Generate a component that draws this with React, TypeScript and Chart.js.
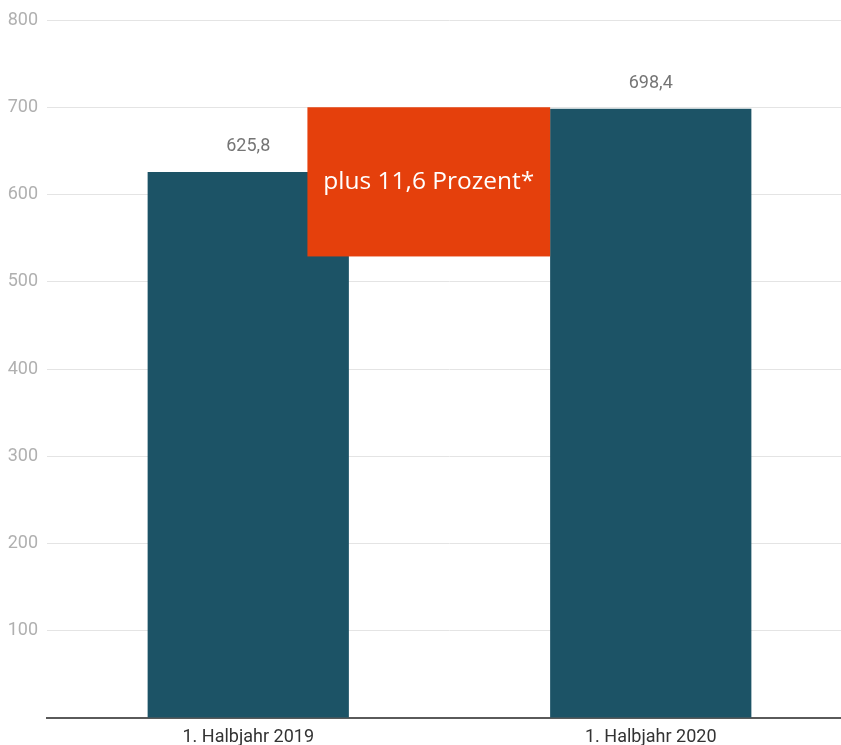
import React, { useEffect, useRef } from "react";
import { Chart, registerables } from "chart.js";

Chart.register(...registerables);

const categories = ["1. Halbjahr 2019", "1. Halbjahr 2020"];
const values = [625.8, 698.4];
const valueLabels = ["625,8", "698,4"];
const yTicks = [0, 100, 200, 300, 400, 500, 600, 700, 800];
const calloutText = "plus 11,6 Prozent*";
const calloutX = [0.147, 0.75];
const calloutY = [529, 700];

const BAR = "#1c5366";
const ORANGE = "#e5400c";

export default function App() {
  const ref = useRef<HTMLCanvasElement>(null);
  useEffect(() => {
    const canvas = ref.current!;
    const overlay = {
      id: "overlay",
      afterDatasetsDraw(chart: any) {
        const ctx = chart.ctx;
        const xs = chart.scales.x;
        const ys = chart.scales.y;
        const meta = chart.getDatasetMeta(0);
        ctx.save();
        ctx.fillStyle = "#757575";
        ctx.font = "18px Roboto";
        ctx.textAlign = "center";
        ctx.textBaseline = "middle";
        meta.data.forEach((bar: any, i: number) => {
          ctx.fillText(valueLabels[i], bar.x, bar.y - 25);
        });
        const x1 = xs.getPixelForValue(calloutX[0]);
        const x2 = xs.getPixelForValue(calloutX[1]);
        const y1 = ys.getPixelForValue(calloutY[1]);
        const y2 = ys.getPixelForValue(calloutY[0]);
        ctx.fillStyle = ORANGE;
        ctx.fillRect(x1, y1, x2 - x1, y2 - y1);
        ctx.fillStyle = "#ffffff";
        ctx.font = "24.5px 'Open Sans'";
        ctx.fillText(calloutText, (x1 + x2) / 2, (y1 + y2) / 2);
        ctx.restore();
      },
    };
    const chart = new Chart(canvas, {
      type: "bar",
      data: {
        labels: categories,
        datasets: [
          {
            data: values,
            backgroundColor: BAR,
            categoryPercentage: 1,
            barPercentage: 0.5,
          },
        ],
      },
      options: {
        responsive: false,
        animation: false,
        devicePixelRatio: 1,
        layout: { padding: { top: 20, left: 0, right: 0, bottom: 0 } },
        plugins: { legend: { display: false }, tooltip: { enabled: false } },
        scales: {
          x: {
            grid: { display: false, drawTicks: false },
            border: { display: true, color: "#5a5a5a", width: 2 },
            ticks: { color: "#333333", font: { family: "Roboto", size: 18 }, padding: 9 },
            afterFit: (s: any) => {
              s.height = 27;
            },
          },
          y: {
            min: yTicks[0],
            max: yTicks[yTicks.length - 1],
            afterBuildTicks: (s: any) => {
              s.ticks = yTicks.map((v) => ({ value: v }));
            },
            grid: { color: "#e4e4e4", drawTicks: false, lineWidth: 1 },
            border: { display: false },
            ticks: {
              color: "#b0b0b0",
              font: { family: "Roboto", size: 18 },
              padding: 9,
              callback: (v: any) => (v === 0 ? "" : String(v)),
            },
            afterFit: (s: any) => {
              s.width = 47;
            },
          },
        },
      },
      plugins: [overlay],
    });
    return () => chart.destroy();
  }, []);
  return (
    <div style={{ position: "fixed", left: 0, top: 0, width: 841, height: 745, overflow: "hidden", background: "#fff" }}>
      <canvas ref={ref} width={852} height={745} style={{ width: 852, height: 745, display: "block" }} />
    </div>
  );
}
